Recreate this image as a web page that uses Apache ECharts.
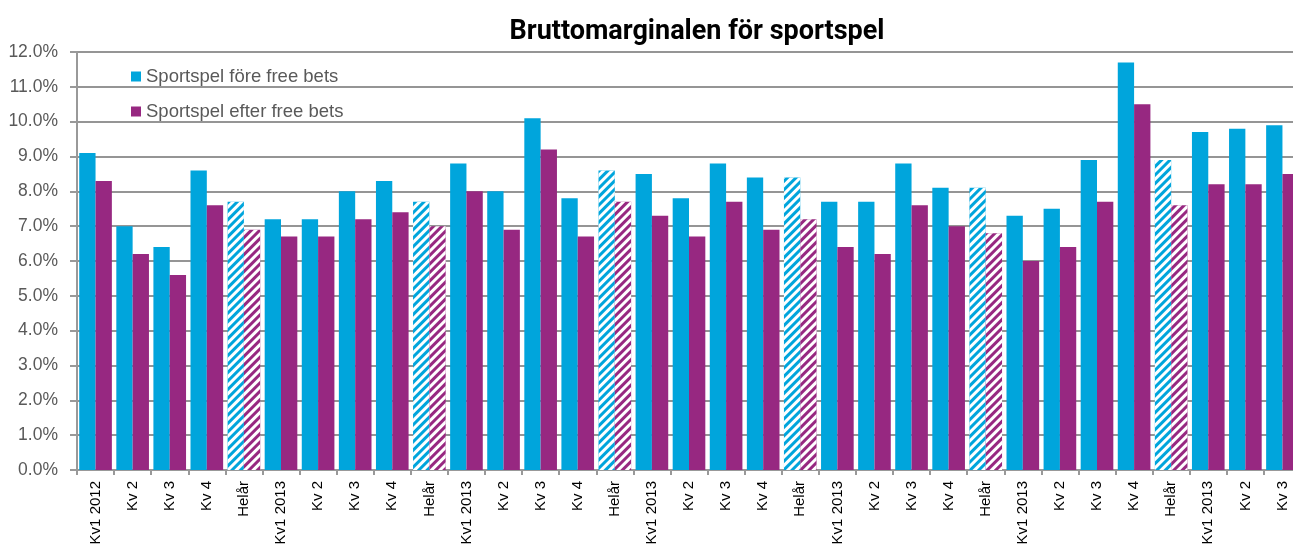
<!DOCTYPE html>
<html><head><meta charset="utf-8">
<script src="https://cdn.jsdelivr.net/npm/echarts@6/dist/echarts.min.js"></script>
<style>html,body{margin:0;padding:0;background:#fff}#c{width:1293px;height:545px}</style>
</head><body><div id="c"></div>
<script>
const categories = ['Kv1 2012','Kv 2','Kv 3','Kv 4','Helår','Kv1 2013','Kv 2','Kv 3','Kv 4','Helår','Kv1 2013','Kv 2','Kv 3','Kv 4','Helår','Kv1 2013','Kv 2','Kv 3','Kv 4','Helår','Kv1 2013','Kv 2','Kv 3','Kv 4','Helår','Kv1 2013','Kv 2','Kv 3','Kv 4','Helår','Kv1 2013','Kv 2','Kv 3'];
const foreFreeBets = [9.1,7.0,6.4,8.6,7.7,7.2,7.2,8.0,8.3,7.7,8.8,8.0,10.1,7.8,8.6,8.5,7.8,8.8,8.4,8.4,7.7,7.7,8.8,8.1,8.1,7.3,7.5,8.9,11.7,8.9,9.7,9.8,9.9];
const efterFreeBets = [8.3,6.2,5.6,7.6,6.9,6.7,6.7,7.2,7.4,7.0,8.0,6.9,9.2,6.7,7.7,7.3,6.7,7.7,6.9,7.2,6.4,6.2,7.6,7.0,6.8,6.0,6.4,7.7,10.5,7.6,8.2,8.2,8.5];
const seriesNames = ['Sportspel före free bets','Sportspel efter free bets'];
const colors = ['#00A5DC','#972881'];

const hatch = {symbol:'rect', symbolSize:1, dashArrayX:[1,0], dashArrayY:[3,3], rotation:-Math.PI/4, color:'#ffffff'};
function build(vals){
  return vals.map((v,i)=> categories[i]==='Helår' ? {value:v, itemStyle:{decal:hatch}} : v);
}
const chart = echarts.init(document.getElementById('c'));
chart.setOption({
  animation:false,
  title:{text:'Bruttomarginalen för sportspel', left:692, top:14, textAlign:'center',
    textStyle:{fontFamily:'Roboto', fontWeight:'bold', fontSize:27, color:'#000'}},
  legend:{orient:'vertical', left:126, top:62, itemGap:16, itemWidth:10, itemHeight:10, icon:'rect',
    textStyle:{fontFamily:'Liberation Sans', fontSize:18.5, color:'#595959'}, data:seriesNames},
  grid:{left:77, right:-8, top:52, bottom:75, outerBoundsMode:'none', containLabel:false},
  xAxis:{type:'category', data:categories,
    axisLine:{lineStyle:{color:'#999', width:2}},
    axisTick:{show:true, length:5, lineStyle:{color:'#999', width:2}},
    axisLabel:{rotate:90, interval:0, margin:11, fontFamily:'Liberation Sans', fontSize:15, color:'#000'}},
  yAxis:{type:'value', min:0, max:12, interval:1,
    axisLine:{show:true, lineStyle:{color:'#999', width:2}},
    axisTick:{show:true, length:7, lineStyle:{color:'#999', width:2}},
    splitLine:{lineStyle:{color:'#959595', width:2}},
    axisLabel:{formatter:v=>v.toFixed(1)+'%', margin:19, fontFamily:'Liberation Sans', fontSize:17.5, color:'#595959'}},
  series:[
    {name:seriesNames[0], type:'bar', data:build(foreFreeBets), itemStyle:{color:colors[0]}, barGap:'0%', barCategoryGap:'12%'},
    {name:seriesNames[1], type:'bar', data:build(efterFreeBets), itemStyle:{color:colors[1]}, barGap:'0%', barCategoryGap:'12%'}
  ]
});
</script></body></html>
